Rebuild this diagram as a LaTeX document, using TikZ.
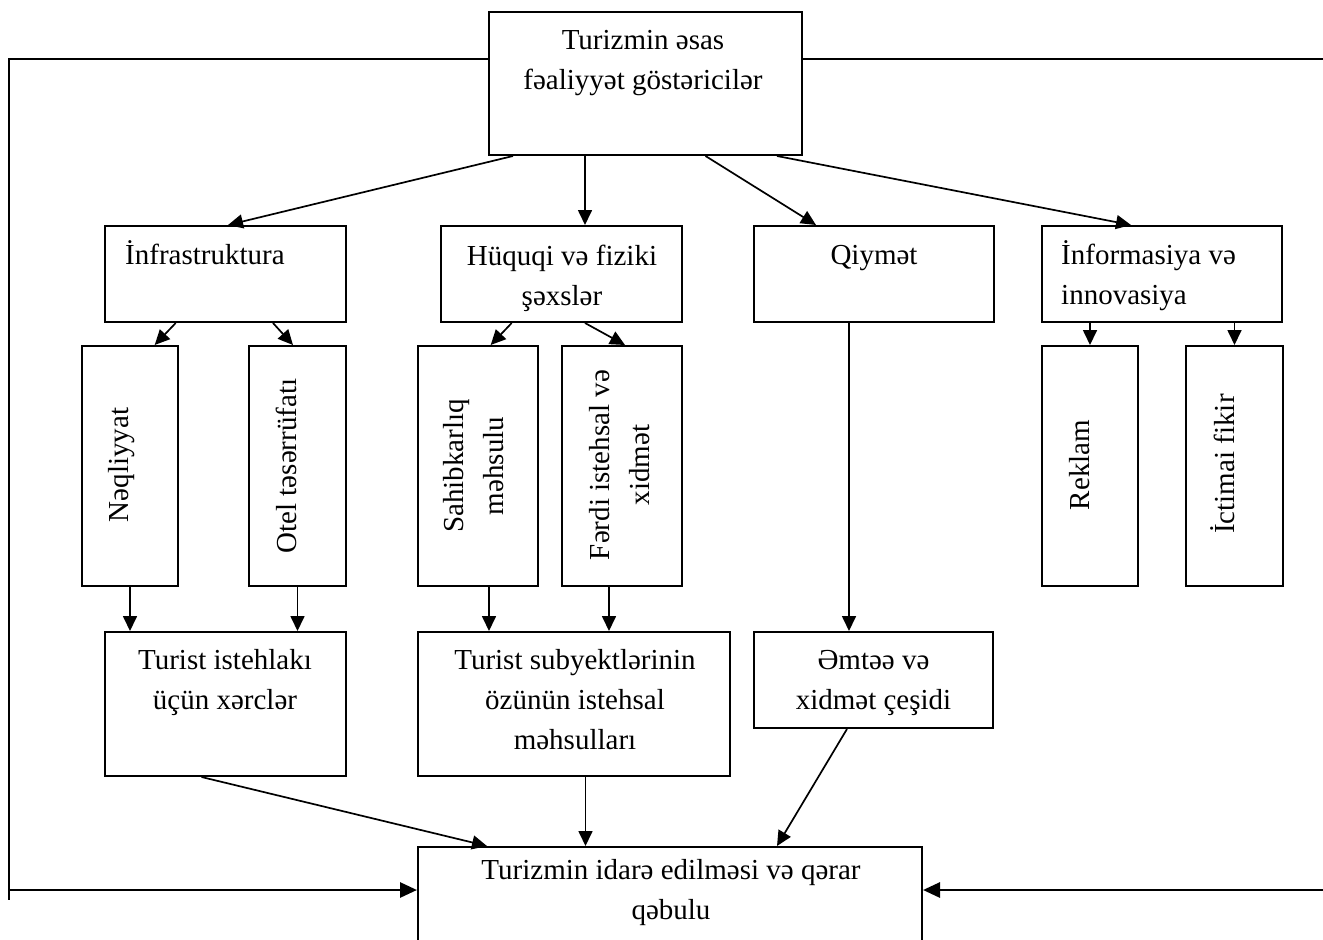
\documentclass[tikz,border=0pt]{standalone}
\usepackage{fontspec}
\setmainfont{Liberation Serif}
\usetikzlibrary{arrows.meta,calc}
\begin{document}
\begin{tikzpicture}[x=1pt,y=-1pt,
  box/.style={draw,line width=2pt,inner sep=0pt,rectangle},
  txt/.style={inner sep=0pt,align=center,font=\fontsize{29}{40}\selectfont},
  conn/.style={line width=1.7pt,-{Triangle[length=15pt,width=14pt]}},
  thick arrow/.style={line width=2.8pt,-{Triangle[length=17pt,width=15pt]}},
  feed/.style={line width=2pt},
]
\useasboundingbox (0,0) rectangle (1323,940);
\clip (0,0) rectangle (1323,940);

% boxes
\node[box,minimum width=313pt,minimum height=143pt] (top) at (645.5,83.5) {};
\node[box,minimum width=241pt,minimum height=96pt] (infra) at (225.5,274) {};
\node[box,minimum width=241pt,minimum height=96pt] (huq) at (561.5,274) {};
\node[box,minimum width=240pt,minimum height=96pt] (qiy) at (874,274) {};
\node[box,minimum width=240pt,minimum height=96pt] (inf) at (1162,274) {};
\node[box,minimum width=96pt,minimum height=240pt] (neq) at (130,466) {};
\node[box,minimum width=97pt,minimum height=240pt] (otel) at (297.5,466) {};
\node[box,minimum width=120pt,minimum height=240pt] (sah) at (478,466) {};
\node[box,minimum width=120pt,minimum height=240pt] (ferdi) at (622,466) {};
\node[box,minimum width=96pt,minimum height=240pt] (rek) at (1090,466) {};
\node[box,minimum width=97pt,minimum height=240pt] (ict) at (1234.5,466) {};
\node[box,minimum width=241pt,minimum height=144pt] (ist) at (225.5,704) {};
\node[box,minimum width=312pt,minimum height=144pt] (sub) at (574,704) {};
\node[box,minimum width=239pt,minimum height=96pt] (emt) at (873.5,680) {};
\node[box,minimum width=504pt,minimum height=113pt] (bot) at (670,903.5) {};

% texts
\node[txt] (toptxt) at (643,63) {Turizmin əsas\\fəaliyyət göstəricilər};
\node[txt,anchor=west] (infratxt) at (125,253) {İnfrastruktura};
\node[txt] (huqtxt) at (562,278) {Hüquqi və fiziki\\şəxslər};
\node[txt] (qiytxt) at (874,258) {Qiymət};
\node[txt,align=left,anchor=west] (inftxt) at (1061,276) {İnformasiya və\\innovasiya};
\node[txt,rotate=90,anchor=base] (neqtxt) at (128,465) {Nəqliyyat};
\node[txt,rotate=90,anchor=base] (oteltxt) at (296,466) {Otel təsərrüfatı};
\node[txt,rotate=90] (sahtxt) at (474,466) {Sahibkarlıq\\məhsulu};
\node[txt,rotate=90] (ferditxt) at (620,465) {Fərdi istehsal və\\xidmət};
\node[txt,rotate=90,anchor=base] (rektxt) at (1089,465) {Reklam};
\node[txt,rotate=90,anchor=base] (icttxt) at (1234,464) {İctimai fikir};
\node[txt] (isttxt) at (225,683) {Turist istehlakı\\üçün xərclər};
\node[txt] (subtxt) at (575,700) {Turist subyektlərinin\\özünün istehsal\\məhsulları};
\node[txt] (emttxt) at (873.5,683) {Əmtəə və\\xidmət çeşidi};
\node[txt] (bottxt) at (671,893) {Turizmin idarə edilməsi və qərar\\qəbulu};

% connector points
\coordinate (p1) at ($(top.south west)+(25,0)$);
\coordinate (q1) at ($(infra.north west)+(124,0)$);
\coordinate (p2) at ($(top.south west)+(97,0)$);
\coordinate (p3) at ($(top.south west)+(217.5,0)$);
\coordinate (q3) at ($(qiy.north west)+(63,0)$);
\coordinate (p4) at ($(top.south west)+(289,0)$);
\coordinate (q4) at ($(inf.north west)+(90,0)$);
\coordinate (p5) at ($(infra.south west)+(71.7,0)$);
\coordinate (q5) at ($(neq.north west)+(73.7,0)$);
\coordinate (p6) at ($(infra.south west)+(169,0)$);
\coordinate (q6) at ($(otel.north west)+(45,0)$);
\coordinate (p7) at ($(huq.south west)+(71.7,0)$);
\coordinate (q7) at ($(sah.north west)+(73.7,0)$);
\coordinate (p8) at ($(huq.south west)+(145,0)$);
\coordinate (q8) at ($(ferdi.north west)+(64,0)$);
\coordinate (p13) at ($(sah.south west)+(72,0)$);
\coordinate (p14) at ($(ferdi.south west)+(48,0)$);
\coordinate (p15) at ($(qiy.south west)+(96,0)$);
\coordinate (p16) at ($(ist.south west)+(97.5,0)$);
\coordinate (q16) at ($(bot.north west)+(70,0)$);
\coordinate (p17) at ($(sub.south west)+(168.5,0)$);
\coordinate (p18) at ($(emt.south west)+(94,0)$);
\coordinate (q18) at ($(bot.north west)+(360,0)$);

% connectors
\draw[conn] (p1) -- (q1);
\draw[conn] (p2) -- (p2 |- huq.north);
\draw[conn] (p3) -- (q3);
\draw[conn] (p4) -- (q4);
\draw[conn] (p5) -- (q5);
\draw[conn] (p6) -- (q6);
\draw[conn] (p7) -- (q7);
\draw[conn] (p8) -- (q8);
\draw[conn] (rek.north |- inf.south) -- (rek.north);
\draw[conn] (ict.north |- inf.south) -- (ict.north);
\draw[conn] (neq.south) -- (neq.south |- ist.north);
\draw[conn] (otel.south) -- (otel.south |- ist.north);
\draw[conn] (p13) -- (p13 |- sub.north);
\draw[conn] (p14) -- (p14 |- sub.north);
\draw[conn] (p15) -- (p15 |- emt.north);
\draw[conn] (p16) -- (q16);
\draw[conn] (p17) -- (p17 |- bot.north);
\draw[conn] (p18) -- (q18);

% feedback lines
\coordinate (LT) at (9,59);
\coordinate (LB) at (9,900);
\coordinate (LA) at (9,890);
\coordinate (RT) at (1330,59);
\coordinate (RA) at (1330,890);
\draw[feed] (LT -| top.west) -- (LT) -- (LB);
\draw[feed] (RT -| top.east) -- (RT);
\draw[thick arrow] (LA) -- (LA -| bot.west);
\draw[thick arrow] (RA) -- (RA -| bot.east);
\end{tikzpicture}
\end{document}
